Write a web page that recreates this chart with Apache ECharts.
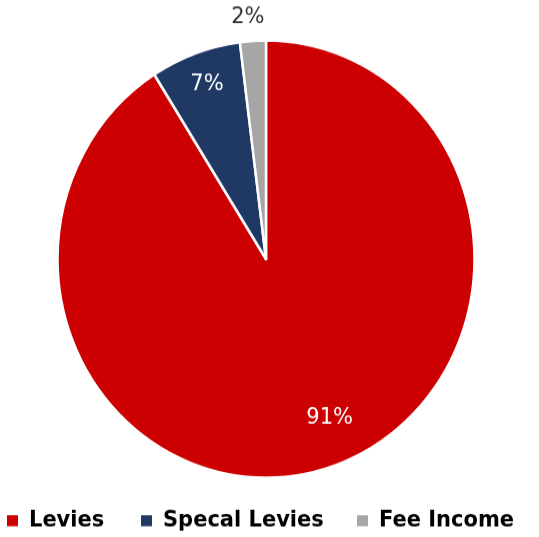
<!DOCTYPE html>
<html>
<head>
<meta charset="utf-8">
<script src="https://cdn.jsdelivr.net/npm/echarts@6/dist/echarts.min.js"></script>
<style>
  html, body { margin: 0; padding: 0; background: #fff; width: 539px; height: 537px; }
  /* the pie is drawn slightly taller than wide */
  #chart { width: 539px; height: 512px; transform: scaleY(1.0488); transform-origin: 0 0; }
</style>
</head>
<body>
<div id="chart"></div>
<script>
// Income breakdown, in percent
const categories = ['Levies', 'Specal Levies', 'Fee Income'];
const shares = [91, 7, 2];
const palette = ['#CC0000', '#1F3864', '#A6A6A6'];
const legendLeft = [5, 139, 355];

const chart = echarts.init(document.getElementById('chart'), null, { renderer: 'canvas' });

const center = [266, 247];
const R = 208.5;
const labelFont = { fontFamily: 'DejaVu Sans', fontSize: 21 };

const option = {
  animation: false,
  legend: categories.map((name, i) => ({
    data: [{ name: name, itemStyle: { color: palette[i] } }],
    left: legendLeft[i],
    top: 486,
    padding: 0,
    icon: 'rect',
    itemWidth: 13,
    itemHeight: 12.4,
    selectedMode: false,
    textStyle: {
      fontFamily: 'DejaVu Sans', fontWeight: 'bold', fontSize: 21, color: '#000',
      padding: [0, 0, 0, 5]
    }
  })),
  series: [
    {
      name: 'shares',
      type: 'pie',
      center: center,
      radius: R,
      startAngle: 90,
      clockwise: true,
      avoidLabelOverlap: false,
      emphasis: { disabled: true },
      itemStyle: { borderColor: '#fff', borderWidth: 2.5 },
      label: { show: false },
      labelLine: { show: false, length: 22, length2: 0 },
      data: categories.map((name, i) => ({
        name: name,
        value: shares[i],
        itemStyle: { color: palette[i] },
        label: i === 2
          ? Object.assign({ show: true, position: 'outside', color: '#333333',
              formatter: '{c}%', offset: [18, 0] }, labelFont)
          : { show: false }
      }))
    },
    {
      // transparent ring that carries the inside percentage labels
      name: 'labels',
      type: 'pie',
      center: center,
      radius: [134, R],
      startAngle: 90,
      clockwise: true,
      silent: true,
      legendHoverLink: false,
      avoidLabelOverlap: false,
      emphasis: { disabled: true },
      itemStyle: { color: 'rgba(0,0,0,0)', borderWidth: 0 },
      labelLine: { show: false },
      data: categories.map((name, i) => ({
        name: name,
        value: shares[i],
        label: i === 2
          ? { show: false }
          : Object.assign({ show: true, position: 'inside', color: '#fff',
              formatter: '{c}%', offset: i === 0 ? [15, -16] : [0, -3] }, labelFont)
      }))
    }
  ]
};

chart.setOption(option);
</script>
</body>
</html>
